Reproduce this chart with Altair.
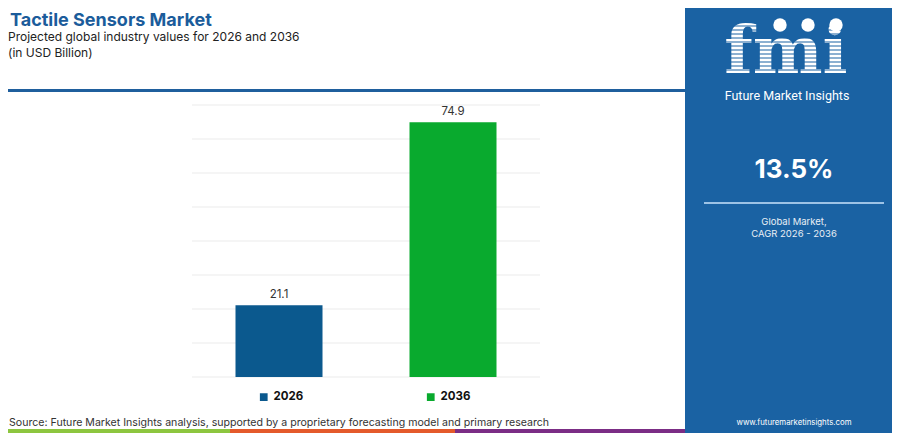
import altair as alt
import pandas as pd

years = ["2026", "2036"]
values = [21.1, 74.9]
bar_colors = ["#0b598e", "#09aa2e"]
y_ticks = [0, 10, 20, 30, 40, 50, 60, 70, 80]

title = "Tactile Sensors Market"
subtitle1 = "Projected global industry values for 2026 and 2036"
subtitle2 = "(in USD Billion)"
source = "Source: Future Market Insights analysis, supported by a proprietary forecasting model and primary research"
cagr = "13.5%"
cagr_l1 = "Global Market,"
cagr_l2 = "CAGR 2026 - 2036"
brand = "Future Market Insights"
url = "www.futuremarketinsights.com"

df = pd.DataFrame({"year": years, "value": values})
ticks_df = pd.DataFrame({"tick": y_ticks})
one = pd.DataFrame({"k": [0]})

FONT = "Inter"
PANEL = "#1a62a3"
PW, PH = 348, 272
YSCALE = alt.Scale(domain=[0, 80], nice=False)


def box(x, x2, y, y2, color, opacity=1.0):
    return alt.Chart(one).mark_rect(color=color, opacity=opacity).encode(
        x=alt.value(x), x2=alt.value(x2), y=alt.value(y), y2=alt.value(y2)
    )


def label(txt, x, y, size, color, weight="normal", align="left", baseline="middle", font=FONT):
    return alt.Chart(one).mark_text(
        text=txt, fontSize=size, color=color, fontWeight=weight, align=align,
        baseline=baseline, font=font
    ).encode(x=alt.value(x), y=alt.value(y))


grid = alt.Chart(ticks_df).mark_rule(color="#ebebeb", strokeWidth=1).encode(
    y=alt.Y("tick:Q", scale=YSCALE, axis=None)
)

bars = alt.Chart(df).mark_bar().encode(
    x=alt.X("year:N", sort=years, axis=None,
            scale=alt.Scale(paddingInner=0.5, paddingOuter=0.25)),
    y=alt.Y("value:Q", scale=YSCALE, axis=None),
    color=alt.Color("year:N", scale=alt.Scale(domain=years, range=bar_colors),
                    legend=alt.Legend(
                        title=None, orient="none", legendX=66, legendY=286,
                        direction="horizontal", symbolType="square", symbolSize=60,
                        symbolStrokeWidth=0, labelFont=FONT, labelFontSize=11.5,
                        labelFontWeight="bold", labelColor="#111111", labelOffset=4,
                        columnPadding=121, padding=0)),
)

bar_text = alt.Chart(df).mark_text(
    baseline="alphabetic", dy=-7, fontSize=11.5, color="#333333", font=FONT
).encode(
    x=alt.X("year:N", sort=years),
    y=alt.Y("value:Q", scale=YSCALE),
    text=alt.Text("value:Q", format=".1f"),
)

# logo decorations (plot-relative pixel positions)
globes = pd.DataFrame({"cx": [588, 616, 644]})
stripes = pd.DataFrame({"sy": list(range(-83, -31, 4))})

layers = [
    # header
    label(title, -182, -79, 18, "#1b5c9b", weight="bold", baseline="alphabetic"),
    label(subtitle1, -184, -64, 12, "#222222", baseline="alphabetic"),
    label(subtitle2, -184, -48, 12, "#222222", baseline="alphabetic"),
    box(-184, 493, -16, -13, "#1f5f9d"),
    grid,
    bars,
    bar_text,
    # footer
    label(source, -183, 318, 10.6, "#333333"),
    box(-184, 38, 324, 328, "#8dc63f"),
    box(38, 263, 324, 328, "#e45a2b"),
    box(263, 493, 324, 328, "#7b2d85"),
    # right panel
    box(493, 700, -97, 328, PANEL),
    label("fmi", 594, -32, 66, "#ffffff", weight="bold", align="center",
          baseline="alphabetic", font="DejaVu Serif"),
    alt.Chart(stripes).mark_rule(color=PANEL, strokeWidth=1.2).encode(
        x=alt.value(525), x2=alt.value(665), y=alt.Y("sy:Q", scale=None)
    ),
    alt.Chart(globes).mark_point(
        filled=True, color="#ffffff", size=180, opacity=1, shape="circle"
    ).encode(x=alt.X("cx:Q", scale=None), y=alt.value(-80)),
    label(brand, 595, -9, 12.5, "#ffffff", align="center", font="Roboto"),
    label(cagr, 602, 65, 26, "#ffffff", weight="bold", align="center"),
    box(512, 692, 97, 99, "#9dc3e6"),
    label(cagr_l1, 602, 117, 9.5, "#e8eef5", align="center"),
    label(cagr_l2, 602, 129, 9.5, "#e8eef5", align="center"),
    label(url, 602, 318, 7.8, "#ffffff", align="center"),
]

chart = alt.layer(*layers).properties(
    width=PW, height=PH,
    padding={"left": 184, "top": 97, "right": 352, "bottom": 56},
    autosize=alt.AutoSizeParams(type="none"),
    background="#ffffff",
).configure_view(stroke=None)

chart.save("out.html", embed_options={"renderer": "svg", "actions": False})
